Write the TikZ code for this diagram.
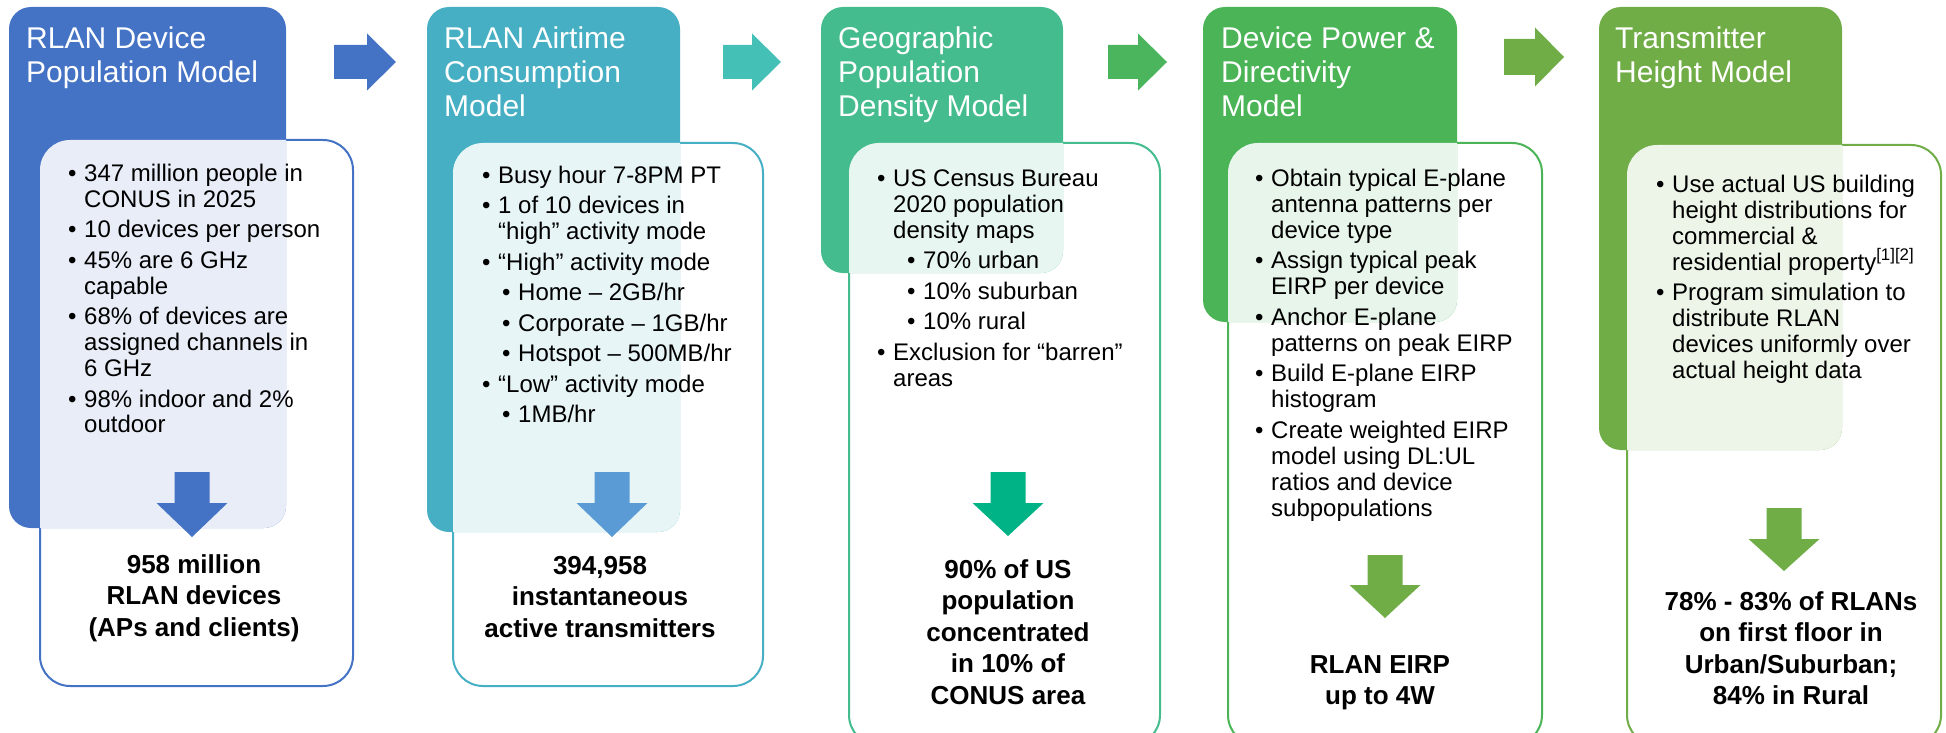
\documentclass[tikz,border=0pt]{standalone}
\usepackage{fontspec}
\setmainfont{Liberation Sans}
\definecolor{cA}{HTML}{4472C4}
\definecolor{cB}{HTML}{47AFC4}
\definecolor{cC}{HTML}{45BC8D}
\definecolor{cD}{HTML}{4AB456}
\definecolor{cE}{HTML}{70AD47}
\definecolor{rB}{HTML}{45C0B7}
\definecolor{rC}{HTML}{4BB55D}
\definecolor{dB}{HTML}{5B9BD5}
\definecolor{dC}{HTML}{00B386}
\newcommand\bitem{\par\hangindent=16pt\hangafter=1\noindent\hbox to 16pt{\textbullet\hss}}
\newcommand\sitem[1]{\par\hangindent=\dimexpr#1+16pt\relax\hangafter=1\noindent\hbox to \dimexpr#1+16pt\relax{\hskip#1\textbullet\hss}}
\newcommand\blist[1]{\begin{minipage}[t]{400pt}\setlength\parskip{4.5pt}\setlength\parindent{0pt}#1\end{minipage}}
\newcommand\ttl[1]{\begin{minipage}[t]{400pt}\raggedright #1\end{minipage}}
\newcommand\rsl[1]{\begin{minipage}[t]{400pt}\centering #1\end{minipage}}
% down block arrow: colour, cx, top, head start, tip
\newcommand\dnarrow[5]{\fill[#1] (#2-17.5,#3) -- (#2+17.5,#3) -- (#2+17.5,#4) -- (#2+35.5,#4) -- (#2,#5) -- (#2-35.5,#4) -- (#2-17.5,#4) -- cycle;}
% right block arrow: colour, x0, head start, tip, cy, shaft half, head half
\newcommand\rtarrow[7]{\fill[#1] (#2,#5-#6) -- (#3,#5-#6) -- (#3,#5-#7) -- (#4,#5) -- (#3,#5+#7) -- (#3,#5+#6) -- (#2,#5+#6) -- cycle;}
\tikzset{
  hdr/.style={fill=#1, rounded corners=22pt},
  bodybox/.style={draw=#1, line width=2pt, fill=white, rounded corners=30pt},
  ttlnode/.style={anchor=base west, inner sep=0pt, text=white, font=\fontsize{30}{34}\selectfont},
  lstnode/.style={anchor=base west, inner sep=0pt, font=\fontsize{24}{26}\selectfont},
  resnode/.style={anchor=base, inner sep=0pt, font=\fontsize{26}{31.5}\selectfont\bfseries},
}
\newcommand\panel[3]{% colour, header rectangle, body rectangle
  \draw[bodybox=#1] #3;
  \fill[hdr=#1] #2;
  \begin{scope}
    \clip[rounded corners=22pt] #2;
    \fill[white, fill opacity=0.88, rounded corners=30pt] #3;
  \end{scope}
}
\begin{document}
\begin{tikzpicture}[x=1pt,y=-1pt]
\useasboundingbox (0,0) rectangle (1946,733);
\clip (0,0) rectangle (1946,733);

% Panel 1
\panel{cA}{(9,7) rectangle (286,528)}{(40,140) rectangle (353,686)}
\node[ttlnode] (t1) at (26,49) {\ttl{RLAN Device\\Population Model}};
\node[lstnode] (l1) at (68,181) {\blist{%
\bitem 347 million people in\newline CONUS in 2025
\bitem 10 devices per person
\bitem 45\% are 6 GHz\newline capable
\bitem 68\% of devices are\newline assigned channels in\newline 6 GHz
\bitem 98\% indoor and 2\%\newline outdoor}};
\dnarrow{cA}{192}{472}{503}{537}
\node[resnode] (r1) at (194,573) {\rsl{958 million\\RLAN devices\\(APs and clients)}};

% Panel 2
\panel{cB}{(427,7) rectangle (680,532)}{(453,143) rectangle (763,686)}
\node[ttlnode] (t2) at (444,49) {\ttl{RLAN Airtime\\Consumption\\Model}};
\node[lstnode] (l2) at (482,183) {\blist{%
\bitem Busy hour 7-8PM PT
\bitem 1 of 10 devices in\newline “high” activity mode
\bitem “High” activity mode
\sitem{20pt}Home – 2GB/hr
\sitem{20pt}Corporate – 1GB/hr
\sitem{20pt}Hotspot – 500MB/hr
\bitem “Low” activity mode
\sitem{20pt}1MB/hr}};
\dnarrow{dB}{612}{472}{503}{537}
\node[resnode] (r2) at (600,574) {\rsl{394,958\\instantaneous\\active transmitters}};

% Panel 3
\panel{cC}{(821,7) rectangle (1063,273)}{(849,143) rectangle (1160,745)}
\node[ttlnode] (t3) at (838,49) {\ttl{Geographic\\Population\\Density Model}};
\node[lstnode] (l3) at (877,186) {\blist{%
\bitem US Census Bureau\newline 2020 population\newline density maps
\sitem{30pt}70\% urban
\sitem{30pt}10\% suburban
\sitem{30pt}10\% rural
\bitem Exclusion for “barren”\newline areas}};
\dnarrow{dC}{1008}{472}{503}{536}
\node[resnode] (r3) at (1008,578) {\rsl{90\% of US\\population\\concentrated\\in 10\% of\\CONUS area}};

% Panel 4
\panel{cD}{(1203,7) rectangle (1457,322)}{(1228,143) rectangle (1542,745)}
\node[ttlnode] (t4) at (1221,49) {\ttl{Device Power \&\\Directivity\\Model}};
\node[lstnode] (l4) at (1255,186) {\blist{%
\bitem Obtain typical E-plane\newline antenna patterns per\newline device type
\bitem Assign typical peak\newline EIRP per device
\bitem Anchor E-plane\newline patterns on peak EIRP
\bitem Build E-plane EIRP\newline histogram
\bitem Create weighted EIRP\newline model using DL:UL\newline ratios and device\newline subpopulations}};
\dnarrow{cE}{1385}{555}{585}{618}
\node[resnode] (r4) at (1380,673) {\rsl{RLAN EIRP\\up to 4W}};

% Panel 5
\panel{cE}{(1599,7) rectangle (1842,450)}{(1627,145) rectangle (1941,745)}
\node[ttlnode] (t5) at (1615,49) {\ttl{Transmitter\\Height Model}};
\node[lstnode] (l5) at (1656,192) {\blist{%
\bitem Use actual US building\newline height distributions for\newline commercial \&\newline residential property\textsuperscript{[1][2]}
\bitem Program simulation to\newline distribute RLAN\newline devices uniformly over\newline actual height data}};
\dnarrow{cE}{1784}{508}{539}{571}
\node[resnode] (r5) at (1791,610) {\rsl{78\% - 83\% of RLANs\\on first floor in\\Urban/Suburban;\\84\% in Rural}};

% Right arrows between panels
\rtarrow{cA}{334}{367}{396}{62}{17}{28.5}
\rtarrow{rB}{723}{752}{781}{62}{17}{28.5}
\rtarrow{rC}{1108}{1138}{1167}{62}{17}{28.5}
\rtarrow{cE}{1504}{1535}{1564}{57}{18}{29.5}
\end{tikzpicture}
\end{document}
